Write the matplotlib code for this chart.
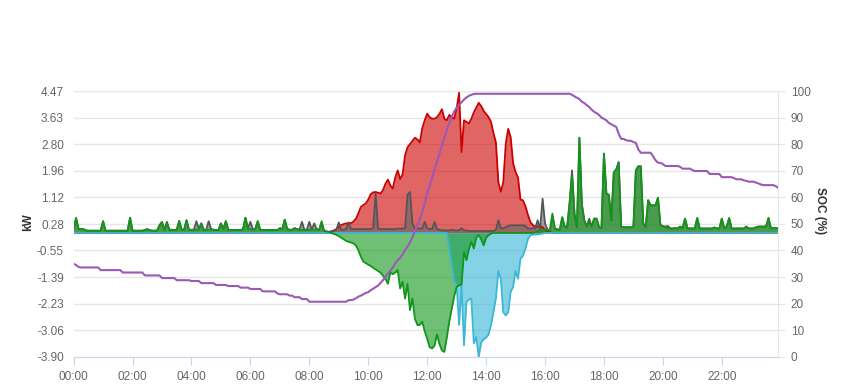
import numpy as np
import matplotlib
matplotlib.use("Agg")
import matplotlib.pyplot as plt

# 5-minute samples, one row per hour (00:00 .. 23:55)
pv_kw = (
    [0.0] * 96
    + [0, 0, 0, 0, 0, 0, 0, 0, 0.03, 0.05, 0.08, 0.12]
    + [0.18, 0.25, 0.28, 0.30, 0.31, 0.31, 0.36, 0.45, 0.62, 0.82, 0.88, 0.93]
    + [1.05, 1.22, 1.28, 1.29, 1.27, 1.24, 1.35, 1.55, 1.68, 1.50, 1.40, 1.75]
    + [1.97, 1.70, 1.85, 2.45, 2.70, 2.80, 2.90, 3.00, 2.95, 2.85, 3.30, 3.55]
    + [3.76, 3.65, 3.60, 3.60, 3.65, 3.75, 3.90, 3.60, 3.55, 3.72, 3.65, 3.60]
    + [3.92, 4.42, 2.55, 3.55, 3.50, 3.45, 3.60, 3.80, 3.95, 4.10, 4.00, 3.85]
    + [3.75, 3.65, 3.50, 3.15, 2.85, 1.60, 1.30, 1.60, 2.80, 3.28, 3.02, 2.20]
    + [1.92, 1.75, 1.05, 1.03, 0.85, 0.58, 0.35, 0.25, 0.20, 0.20, 0.22, 0.18]
    + [0.10, 0.05, 0.02, 0, 0, 0, 0, 0, 0, 0, 0, 0]
    + [0.0] * 84
)

load_kw = [
    0.12, 0.47, 0.13, 0.12, 0.12, 0.08, 0.07, 0.07, 0.07, 0.07, 0.07, 0.07,
    0.37, 0.07, 0.07, 0.07, 0.07, 0.07, 0.07, 0.07, 0.07, 0.07, 0.07, 0.48,
    0.07, 0.07, 0.07, 0.07, 0.07, 0.09, 0.12, 0.09, 0.07, 0.07, 0.08, 0.25,
    0.35, 0.10, 0.35, 0.10, 0.10, 0.09, 0.10, 0.38, 0.10, 0.10, 0.40, 0.10,
    0.10, 0.10, 0.37, 0.12, 0.30, 0.10, 0.10, 0.37, 0.12, 0.10, 0.09, 0.09,
    0.30, 0.12, 0.37, 0.10, 0.09, 0.09, 0.09, 0.09, 0.09, 0.12, 0.48, 0.15,
    0.35, 0.12, 0.12, 0.37, 0.10, 0.09, 0.09, 0.09, 0.09, 0.09, 0.09, 0.09,
    0.15, 0.12, 0.42, 0.12, 0.10, 0.10, 0.15, 0.12, 0.10, 0.35, 0.10, 0.10,
    0.35, 0.10, 0.30, 0.12, 0.10, 0.30, 0.06, 0.04, 0.04, 0.04, 0.06, 0.10,
    0.33, 0.10, 0.10, 0.12, 0.33, 0.12, 0.12, 0.12, 0.12, 0.12, 0.12, 0.12,
    0.12, 0.12, 0.14, 1.24, 0.14, 0.12, 0.12, 0.12, 0.12, 0.12, 0.12, 0.12,
    0.14, 0.13, 0.14, 0.14, 1.20, 1.29, 0.30, 0.14, 0.14, 0.14, 0.14, 0.35,
    0.15, 0.12, 0.12, 0.35, 0.12, 0.10, 0.08, 0.08, 0.08, 0.08, 0.10, 0.08,
    0.08, 0.08, 0.15, 0.08, 0.08, 0.06, 0.06, 0.06, 0.06, 0.06, 0.06, 0.06,
    0.06, 0.06, 0.06, 0.06, 0.10, 0.40, 0.15, 0.15, 0.18, 0.22, 0.24, 0.24,
    0.24, 0.24, 0.24, 0.24, 0.22, 0.15, 0.13, 0.15, 0.15, 0.40, 0.12, 1.08,
    0.30, 0.10, 0.08, 0.55, 0.14, 0.12, 0.10, 0.48, 0.20, 0.20, 0.95, 1.97,
    0.60, 0.18, 3.00, 0.90, 0.40, 0.20, 0.45, 0.20, 0.45, 0.45, 0.18, 0.15,
    2.50, 1.24, 1.20, 0.40, 1.90, 2.00, 2.24, 0.20, 0.18, 0.18, 0.18, 0.18,
    0.20, 1.97, 2.10, 2.10, 0.30, 0.18, 1.03, 0.87, 0.87, 0.87, 1.11, 0.25,
    0.22, 0.20, 0.22, 0.14, 0.14, 0.15, 0.14, 0.20, 0.15, 0.45, 0.15, 0.14,
    0.14, 0.14, 0.47, 0.14, 0.14, 0.14, 0.14, 0.14, 0.14, 0.17, 0.14, 0.14,
    0.45, 0.14, 0.20, 0.47, 0.14, 0.14, 0.14, 0.14, 0.14, 0.14, 0.20, 0.14,
    0.14, 0.14, 0.18, 0.20, 0.20, 0.20, 0.20, 0.47, 0.15, 0.15, 0.15, 0.15,
]

battery_kw = [
    0.12, 0.47, 0.13, 0.12, 0.12, 0.08, 0.07, 0.07, 0.07, 0.07, 0.07, 0.07,
    0.37, 0.07, 0.07, 0.07, 0.07, 0.07, 0.07, 0.07, 0.07, 0.07, 0.07, 0.48,
    0.07, 0.07, 0.07, 0.07, 0.07, 0.09, 0.12, 0.09, 0.07, 0.07, 0.08, 0.22,
    0.32, 0.10, 0.30, 0.10, 0.10, 0.09, 0.10, 0.38, 0.10, 0.10, 0.40, 0.10,
    0.10, 0.10, 0.10, 0.10, 0.30, 0.10, 0.10, 0.10, 0.12, 0.10, 0.09, 0.09,
    0.30, 0.12, 0.37, 0.10, 0.09, 0.09, 0.09, 0.09, 0.09, 0.12, 0.48, 0.12,
    0.12, 0.10, 0.12, 0.37, 0.10, 0.09, 0.09, 0.09, 0.09, 0.09, 0.09, 0.09,
    0.15, 0.12, 0.42, 0.12, 0.10, 0.10, 0.15, 0.12, 0.10, 0.10, 0.10, 0.10,
    0.10, 0.10, 0.10, 0.12, 0.10, 0.37, 0.08, 0.05, 0.03, 0.00, -0.03, -0.06,
    -0.10, -0.15, -0.20, -0.25, -0.28, -0.30, -0.33, -0.40, -0.55, -0.75, -0.90, -0.95,
    -1.00, -1.04, -1.10, -1.15, -1.20, -1.25, -1.35, -1.45, -1.60, -1.25, -1.30, -1.25,
    -1.17, -1.75, -1.54, -2.07, -1.60, -2.43, -2.07, -2.70, -2.90, -2.90, -2.80, -3.10,
    -3.33, -3.60, -3.64, -3.55, -3.20, -3.50, -3.70, -3.75, -3.30, -2.80, -2.40, -2.00,
    -1.70, -1.65, -1.62, -0.60, -0.86, -0.50, -0.28, -0.49, -0.15, -0.06, -0.20, -0.39,
    -0.15, -0.07, -0.02, 0, 0, 0, 0, 0, 0, 0, 0, 0,
    0, 0, 0, 0, 0, 0, 0, 0, 0.02, 0.05, 0.10, 0.10,
    0.10, 0.08, 0.08, 0.61, 0.14, 0.10, 0.08, 0.50, 0.20, 0.15, 0.90, 1.82,
    0.60, 0.18, 3.00, 0.90, 0.40, 0.20, 0.35, 0.20, 0.45, 0.45, 0.18, 0.15,
    2.50, 1.24, 1.20, 0.40, 1.90, 2.00, 2.20, 0.20, 0.18, 0.18, 0.18, 0.18,
    0.20, 1.97, 2.10, 2.10, 0.30, 0.18, 1.03, 0.87, 0.87, 0.87, 1.11, 0.25,
    0.20, 0.18, 0.15, 0.14, 0.14, 0.15, 0.14, 0.20, 0.15, 0.45, 0.15, 0.14,
    0.14, 0.14, 0.47, 0.14, 0.14, 0.14, 0.14, 0.14, 0.14, 0.17, 0.14, 0.14,
    0.45, 0.14, 0.20, 0.47, 0.14, 0.14, 0.14, 0.14, 0.14, 0.14, 0.20, 0.14,
    0.14, 0.14, 0.18, 0.20, 0.20, 0.20, 0.20, 0.47, 0.15, 0.15, 0.15, 0.15,
]

export_kw = (
    [0.0] * 144
    + [0, 0, 0, 0, 0, 0, 0, 0, 0, -0.50, -1.00, -1.50]
    + [-1.65, -2.90, -1.65, -3.54, -2.17, -2.10, -2.07, -3.48, -3.28, -3.90, -3.45, -3.35]
    + [-3.30, -3.20, -2.90, -2.50, -2.05, -1.20, -1.45, -2.50, -2.60, -2.50, -1.86, -1.70]
    + [-1.20, -1.44, -0.81, -0.72, -0.50, -0.20, -0.08, -0.05, -0.05, -0.05, -0.03, -0.02]
    + [0.0] * 96
)

soc_pct = [
    35.0, 34.5, 33.8, 33.6, 33.6, 33.6, 33.6, 33.6, 33.6, 33.6, 33.6, 32.6,
    32.6, 32.6, 32.6, 32.6, 32.6, 32.6, 32.6, 32.6, 31.7, 31.7, 31.7, 31.7,
    31.7, 31.7, 31.7, 31.7, 31.7, 30.6, 30.6, 30.6, 30.6, 30.6, 30.6, 30.6,
    29.6, 29.6, 29.6, 29.6, 29.6, 29.6, 28.8, 28.8, 28.8, 28.8, 28.8, 28.8,
    28.5, 28.5, 28.5, 28.5, 27.7, 27.7, 27.7, 27.7, 27.7, 27.7, 27.0, 27.0,
    27.0, 27.0, 27.0, 26.6, 26.6, 26.6, 26.6, 26.6, 26.0, 26.0, 26.0, 26.0,
    25.5, 25.5, 25.5, 25.5, 25.5, 24.6, 24.6, 24.6, 24.6, 24.6, 24.6, 23.8,
    23.5, 23.5, 23.5, 23.5, 23.0, 23.0, 22.4, 22.4, 22.4, 21.7, 21.7, 21.7,
    20.7, 20.7, 20.7, 20.7, 20.7, 20.7, 20.7, 20.7, 20.7, 20.7, 20.7, 20.7,
    20.7, 20.7, 20.7, 20.7, 21.3, 21.3, 21.5, 22.0, 22.6, 23.0, 23.5, 24.0,
    24.3, 25.0, 25.6, 26.2, 26.8, 27.8, 28.8, 30.0, 31.3, 32.3, 33.6, 35.2,
    36.3, 37.2, 38.6, 40.2, 41.5, 43.0, 45.0, 47.3, 49.5, 51.8, 54.5, 57.5,
    61.5, 64.3, 67.3, 70.5, 73.5, 76.5, 79.3, 82.5, 85.3, 88.0, 90.3, 92.3,
    93.8, 94.8, 95.8, 96.8, 97.6, 98.2, 98.6, 98.9, 99.0, 99.0, 99.0, 99.0,
    99.0, 99.0, 99.0, 99.0, 99.0, 99.0, 99.0, 99.0, 99.0, 99.0, 99.0, 99.0,
    99.0, 99.0, 99.0, 99.0, 99.0, 99.0, 99.0, 99.0, 99.0, 99.0, 99.0, 99.0,
    99.0, 99.0, 99.0, 99.0, 99.0, 99.0, 99.0, 99.0, 99.0, 99.0, 99.0, 98.6,
    98.0, 97.5, 97.0, 96.0, 95.5, 94.7, 94.0, 93.0, 92.2, 91.7, 91.0, 90.0,
    89.5, 89.0, 88.0, 87.5, 87.0, 86.5, 84.0, 82.0, 82.0, 81.5, 81.3, 81.3,
    80.8, 80.5, 78.0, 76.8, 76.8, 76.8, 76.8, 76.8, 75.5, 74.0, 73.0, 73.0,
    72.5, 71.8, 71.8, 71.8, 71.8, 71.8, 71.8, 71.5, 70.8, 70.8, 70.8, 70.8,
    70.3, 69.9, 69.9, 69.9, 69.9, 69.9, 69.9, 68.8, 68.8, 68.8, 68.8, 68.8,
    67.6, 67.6, 67.6, 67.6, 67.6, 67.2, 66.8, 66.8, 66.8, 66.4, 66.2, 65.9,
    65.9, 65.9, 65.5, 65.2, 64.8, 64.6, 64.6, 64.6, 64.6, 64.6, 64.2, 63.6,
]

kw_ticks = [-3.90, -3.06, -2.23, -1.39, -0.55, 0.28, 1.12, 1.96, 2.80, 3.63, 4.47]
kw_labels = ["-3.90", "-3.06", "-2.23", "-1.39", "-0.55", "0.28", "1.12", "1.96", "2.80", "3.63", "4.47"]
soc_ticks = [0, 10, 20, 30, 40, 50, 60, 70, 80, 90, 100]
hour_ticks = [0, 2, 4, 6, 8, 10, 12, 14, 16, 18, 20, 22]
hour_labels = ["00:00", "02:00", "04:00", "06:00", "08:00", "10:00",
               "12:00", "14:00", "16:00", "18:00", "20:00", "22:00"]

hours = np.arange(len(soc_pct)) / 12.0

plt.rcParams['font.family'] = ['Liberation Sans', 'DejaVu Sans']

fig = plt.figure(figsize=(8.49, 3.9), dpi=100)
ax = fig.add_axes([0.0867, 0.0854, 0.83, 0.681])
ax2 = ax.twinx()

# drawing order: pv, load, export, battery (battery overlaps export)
series = [
    (pv_kw, '#cc0000', '#cc0000'),
    (load_kw, '#555555', '#666666'),
    (export_kw, '#3cb8d6', '#33b5d5'),
    (battery_kw, '#109618', '#109618'),
]
for vals, line_c, fill_c in series:
    ax.fill_between(hours, 0, vals, color=fill_c, alpha=0.6, lw=0, zorder=2)
    ax.plot(hours, vals, color=line_c, lw=1.3, zorder=3)

ax2.plot(hours, soc_pct, color='#9b59b6', lw=1.5)

ax.set_xlim(0, hours[-1])
ax.set_ylim(-3.90, 4.47)
ax.set_yticks(kw_ticks)
ax.set_yticklabels(kw_labels)
ax.set_xticks(hour_ticks)
ax.set_xticklabels(hour_labels)
ax.grid(axis='y', color='#e6e6e6', lw=1, zorder=0)
ax.set_axisbelow(True)

ax2.set_ylim(0, 100)
ax2.set_yticks(soc_ticks)

for a in (ax, ax2):
    for s in ('top', 'left', 'right', 'bottom'):
        a.spines[s].set_visible(False)
ax2.spines['right'].set_visible(True)
ax2.spines['right'].set_color('#e6e6e6')
ax.spines['bottom'].set_visible(True)
ax.spines['bottom'].set_color('#ccd6eb')

ax.tick_params(axis='y', length=0, pad=7, labelsize=8.5, labelcolor='#666666')
ax.tick_params(axis='x', length=6, color='#ccd6eb', pad=4, labelsize=8.5, labelcolor='#666666')
ax2.tick_params(axis='y', length=5, color='#e6e6e6', pad=4, labelsize=8.5, labelcolor='#666666')

fig.text(28 / 849, 1 - 222 / 390, 'kW', rotation=90, ha='center', va='center',
         fontsize=8.5, fontweight='bold', color='#333333')
fig.text(820 / 849, 1 - 211 / 390, 'SOC (%)', rotation=270, ha='center', va='center',
         fontsize=8.5, fontweight='bold', color='#333333')

fig.savefig('out.png', dpi=100)
